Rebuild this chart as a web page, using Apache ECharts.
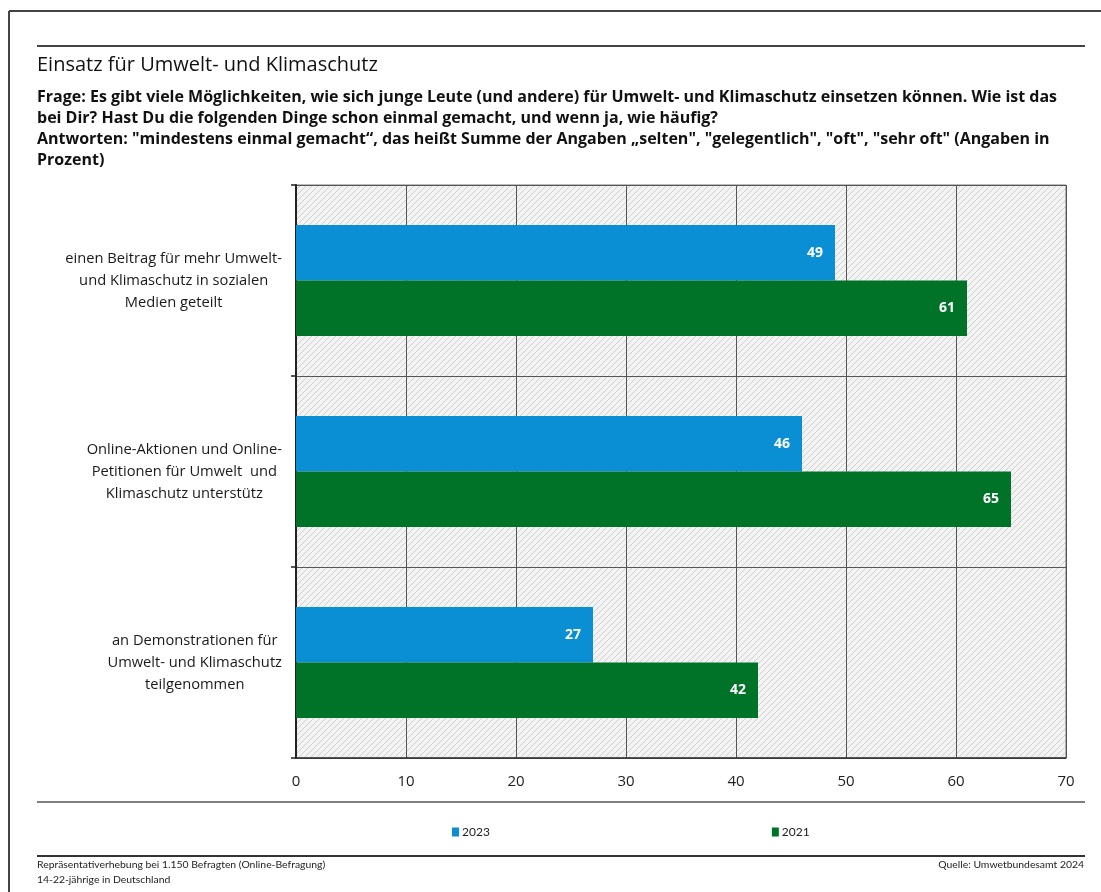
<!DOCTYPE html>
<html><head><meta charset="utf-8">
<script src="https://cdn.jsdelivr.net/npm/echarts@6/dist/echarts.min.js"></script>
<style>html,body{margin:0;padding:0;background:#fff}#c{width:1101px;height:892px}</style>
</head><body><div id="c"></div>
<script>
const categories = [
  "einen Beitrag für mehr Umwelt-\nund Klimaschutz in sozialen\nMedien geteilt",
  "Online-Aktionen und Online-\nPetitionen für Umwelt  und\nKlimaschutz unterstütz",
  "an Demonstrationen für\nUmwelt- und Klimaschutz\nteilgenommen"
];
const values2023 = [49, 46, 27];
const values2021 = [61, 65, 42];
const xTicks = { min: 0, max: 70, interval: 10 };

const FONT = 'Lato';
const FONT2 = '"Open Sans"';
// hatch pattern
const pc = document.createElement('canvas');
const s = 6; pc.width = s; pc.height = s;
const g = pc.getContext('2d');
g.fillStyle = '#f3f3f3'; g.fillRect(0, 0, s, s);
g.strokeStyle = '#cfcfcf'; g.lineWidth = 1;
g.beginPath();
g.moveTo(0, s); g.lineTo(s, 0);
g.moveTo(-1, 1); g.lineTo(1, -1);
g.moveTo(s - 1, s + 1); g.lineTo(s + 1, s - 1);
g.stroke();

const chart = echarts.init(document.getElementById('c'));
const txt = (x, y, text, style) => ({ type: 'text', left: x, top: y, style: Object.assign({ text, fill: '#111', font: '15px ' + FONT }, style || {}) });
const line = (x1, y1, x2, y2, w, c) => ({ type: 'line', shape: { x1, y1, x2, y2 }, style: { stroke: c || '#333', lineWidth: w || 1 } });
const SUB = 'bold 16px ' + FONT2;

chart.setOption({
  animation: false,
  textStyle: { fontFamily: FONT },
  grid: { left: 296, right: 35, top: 185, bottom: 134, show: true, backgroundColor: { image: pc, repeat: 'repeat' }, borderColor: '#777', borderWidth: 1 },
  legend: {
    data: ['2023', '2021'], left: 447, top: 821, itemWidth: 7, itemHeight: 9, itemGap: 282, icon: 'rect',
    textStyle: { fontSize: 12, color: '#222', fontFamily: FONT, padding: [0, 0, 0, -2] }
  },
  xAxis: {
    type: 'value', min: xTicks.min, max: xTicks.max, interval: xTicks.interval,
    axisLine: { show: true, lineStyle: { color: '#333', width: 1.5 } },
    axisTick: { show: false },
    splitLine: { show: true, lineStyle: { color: '#555', width: 1 } },
    axisLabel: { fontSize: 15, color: '#222', margin: 16, fontFamily: FONT2 }
  },
  yAxis: {
    type: 'category', data: categories, inverse: true,
    axisLine: { show: true, lineStyle: { color: '#222', width: 2 } },
    axisTick: { show: true, length: 5, lineStyle: { color: '#222', width: 1.5 } },
    splitLine: { show: true, lineStyle: { color: '#555', width: 1 } },
    axisLabel: {
      margin: 14, align: 'right',
      formatter: v => v.split('\n').map(l => '{c|' + l + '}').join('\n'),
      rich: { c: { align: 'center', fontSize: 14.7, lineHeight: 22, color: '#1a1a1a', fontFamily: FONT2 } }
    }
  },
  series: [
    { name: '2023', type: 'bar', data: values2023, barGap: '0%', barCategoryGap: '42%',
      itemStyle: { color: '#0a8fd5' },
      label: { show: true, position: 'insideRight', color: '#fff', fontWeight: 'bold', fontSize: 14, distance: 12, fontFamily: FONT2 } },
    { name: '2021', type: 'bar', data: values2021,
      itemStyle: { color: '#007329' },
      label: { show: true, position: 'insideRight', color: '#fff', fontWeight: 'bold', fontSize: 14, distance: 12, fontFamily: FONT2 } }
  ],
  graphic: [
    line(9, 11, 1101, 11, 2, '#444'),
    line(9, 11, 9, 892, 2, '#444'),
    line(37, 46, 1085, 46, 2, '#444'),
    line(37, 802, 1085, 802, 1.5, '#555'),
    line(37, 856, 1085, 856, 2, '#333'),
    txt(37, 55, 'Einsatz für Umwelt- und Klimaschutz', { font: '20px ' + FONT2 }),
    txt(37, 89, 'Frage: Es gibt viele Möglichkeiten, wie sich junge Leute (und andere) für Umwelt- und Klimaschutz einsetzen können. Wie ist das', { font: SUB }),
    txt(37, 110, 'bei Dir? Hast Du die folgenden Dinge schon einmal gemacht, und wenn ja, wie häufig?', { font: SUB }),
    txt(37, 131, 'Antworten: "mindestens einmal gemacht“, das heißt Summe der Angaben „selten", "gelegentlich", "oft", "sehr oft" (Angaben in', { font: SUB }),
    txt(37, 152, 'Prozent)', { font: SUB }),
    txt(37, 860, 'Repräsentativerhebung bei 1.150 Befragten (Online-Befragung)', { font: '10.4px ' + FONT, fill: '#222' }),
    txt(37, 875, '14-22-jährige in Deutschland', { font: '10.4px ' + FONT, fill: '#222' }),
    { type: 'text', right: 17, top: 860, style: { text: 'Quelle: Umwetbundesamt 2024', font: '10.4px ' + FONT, fill: '#222' } }
  ]
});
</script></body></html>
